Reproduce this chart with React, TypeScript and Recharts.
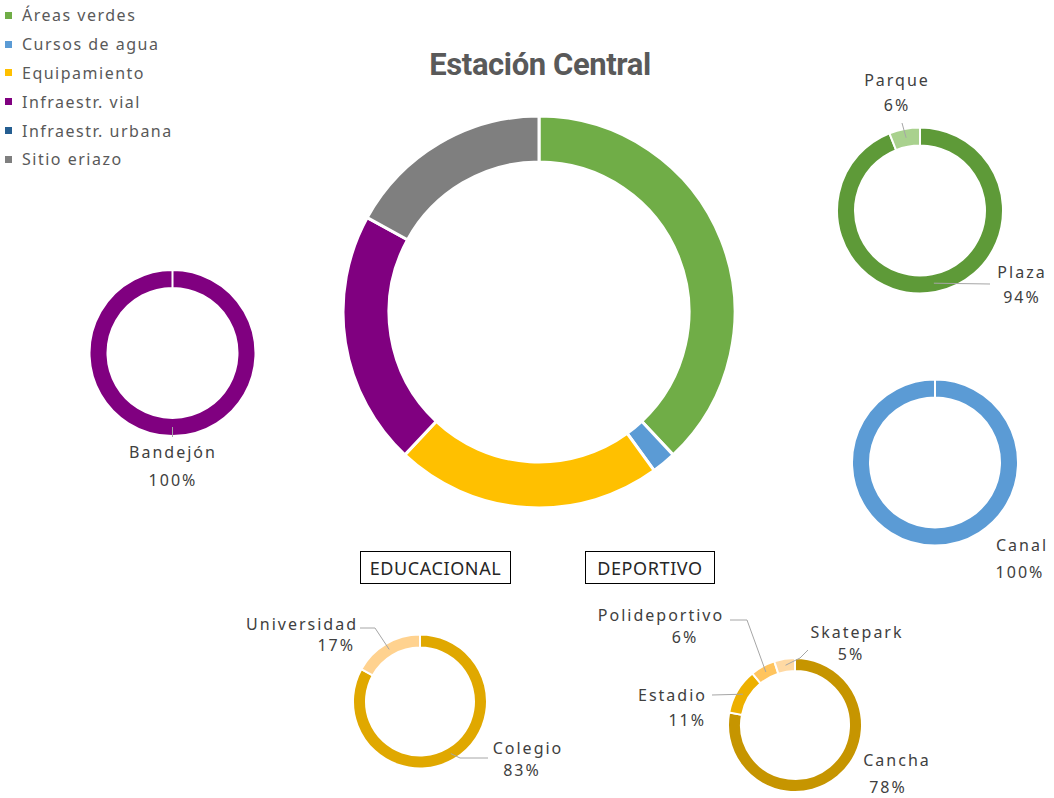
import React from 'react';
import { PieChart, Pie, Cell } from 'recharts';

// ---------- DATA ----------
const mainCategories = ['Áreas verdes', 'Cursos de agua', 'Equipamiento', 'Infraestr. vial', 'Infraestr. urbana', 'Sitio eriazo'];
const mainValues = [38, 2, 22, 21, 0, 17];

const verdesCategories = ['Plaza', 'Parque'];
const verdesValues = [94, 6];

const aguaCategories = ['Canal'];
const aguaValues = [100];

const vialCategories = ['Bandejón'];
const vialValues = [100];

const educCategories = ['Colegio', 'Universidad'];
const educValues = [83, 17];

const deporCategories = ['Cancha', 'Estadio', 'Polideportivo', 'Skatepark'];
const deporValues = [78, 11, 6, 5];

const titleText = 'Estación Central';
const boxLabels = ['EDUCACIONAL', 'DEPORTIVO'];

// ---------- STYLES ----------
const mainColors = ['#70AD47', '#5B9BD5', '#FFC000', '#800080', '#255E91', '#7F7F7F'];
const verdesColors = ['#5E9A38', '#A9D18E'];
const aguaColors = ['#5B9BD5'];
const vialColors = ['#800080'];
const educColors = ['#E0A800', '#FFD28F'];
const deporColors = ['#C69500', '#EDB000', '#FFC45E', '#FFD9A3'];

const FONT = '"Noto Sans", sans-serif';
const RAD = Math.PI / 180;

type Line = [number, number, 'start' | 'middle' | 'end'];
type Spec = { name: Line; pct: Line; path?: [number, number][] };

const toData = (names: string[], values: number[]) => names.map((n, i) => ({ name: n, value: values[i] }));

// label layout offsets (relative to pie center)
const verdesSpecs: Spec[] = [
  { name: [102, 61.5, 'middle'], pct: [102, 86.5, 'middle'], path: [[70, 73.5]] },
  { name: [-23, -130.5, 'middle'], pct: [-23, -105.5, 'middle'], path: [[-18, -87.5]] },
];
const aguaSpecs: Spec[] = [
  { name: [87, 82.5, 'middle'], pct: [85, 109.5, 'middle'] },
];
const vialSpecs: Spec[] = [
  { name: [0.5, 99, 'middle'], pct: [0.5, 127, 'middle'], path: [[0, 84]] },
];
const educSpecs: Spec[] = [
  { name: [108, 46.5, 'middle'], pct: [102, 68.5, 'middle'], path: [[40, 56.5], [68, 56.5]] },
  { name: [-62, -78, 'end'], pct: [-65, -57, 'end'], path: [[-45, -73.5], [-60, -73.5]] },
];
const deporSpecs: Spec[] = [
  { name: [102, 35, 'middle'], pct: [93, 62, 'middle'] },
  { name: [-88, -30, 'end'], pct: [-89, -5, 'end'], path: [[-83, -30]] },
  { name: [-134, -110, 'middle'], pct: [-110, -88, 'middle'], path: [[-48, -105], [-65, -105]] },
  { name: [62, -93, 'middle'], pct: [56, -71, 'middle'], path: [[5, -67], [13, -75]] },
];

const makeLabel = (specs: Spec[]) => (props: any) => {
  const { cx, cy, midAngle, innerRadius, outerRadius, index, percent, name } = props;
  const spec = specs[index];
  if (!spec) return null;
  const r = (innerRadius + outerRadius) / 2;
  const sx = cx + r * Math.cos(-midAngle * RAD);
  const sy = cy + r * Math.sin(-midAngle * RAD);
  const pts = spec.path ? [[sx, sy], ...spec.path.map(([dx, dy]) => [cx + dx, cy + dy])] : null;
  return (
    <g>
      {pts && (
        <polyline points={pts.map((p) => p.join(',')).join(' ')} fill="none" stroke="#A6A6A6" strokeWidth={1} />
      )}
      <text x={cx + spec.name[0]} y={cy + spec.name[1]} textAnchor={spec.name[2]} dominantBaseline="central"
        fontFamily={FONT} fontSize={16} letterSpacing={2} fill="#404040">{name}</text>
      <text x={cx + spec.pct[0]} y={cy + spec.pct[1]} textAnchor={spec.pct[2]} dominantBaseline="central"
        fontFamily={FONT} fontSize={16} letterSpacing={2} fill="#404040">{`${Math.round(percent * 100)}%`}</text>
    </g>
  );
};

const LegendBlock = () => (
  <div style={{ position: 'absolute', left: 0, top: 1, fontFamily: FONT, fontSize: 16, letterSpacing: 1.5, color: '#595959' }}>
    {mainCategories.map((c, i) => (
      <div key={c} style={{ display: 'flex', alignItems: 'center', height: 28.8 }}>
        <span style={{ width: 7, height: 7, background: mainColors[i], display: 'inline-block', marginLeft: 5, marginRight: 10 }} />
        <span>{c}</span>
      </div>
    ))}
  </div>
);

export default function App() {
  const boxStyle: React.CSSProperties = {
    position: 'absolute', top: 551, height: 33, border: '1.5px solid #000', boxSizing: 'border-box',
    display: 'flex', alignItems: 'center', justifyContent: 'center', fontFamily: FONT, fontSize: 18,
    letterSpacing: 0.6, color: '#262626', background: '#fff',
  };
  return (
    <div style={{ position: 'absolute', left: 0, top: 0, width: 1054, height: 798, background: '#fff' }}>
      <PieChart width={1054} height={798} margin={{ top: 0, right: 0, bottom: 0, left: 0 }}>
        <Pie data={toData(mainCategories, mainValues)} dataKey="value" nameKey="name" cx={539} cy={312}
          innerRadius={150} outerRadius={196} startAngle={90} endAngle={-270} stroke="#fff" strokeWidth={3}
          isAnimationActive={false} legendType="none">
          {mainValues.map((_, i) => <Cell key={i} fill={mainColors[i]} />)}
        </Pie>
        <Pie data={toData(verdesCategories, verdesValues)} dataKey="value" nameKey="name" cx={920} cy={210.5}
          innerRadius={65} outerRadius={83} startAngle={90} endAngle={-270} stroke="#fff" strokeWidth={2}
          isAnimationActive={false} label={makeLabel(verdesSpecs)} labelLine={false} legendType="none">
          {verdesValues.map((_, i) => <Cell key={i} fill={verdesColors[i]} />)}
        </Pie>
        <Pie data={toData(aguaCategories, aguaValues)} dataKey="value" nameKey="name" cx={935} cy={462.5}
          innerRadius={65} outerRadius={83} startAngle={90} endAngle={-270} stroke="#fff" strokeWidth={2}
          isAnimationActive={false} label={makeLabel(aguaSpecs)} labelLine={false} legendType="none">
          {aguaValues.map((_, i) => <Cell key={i} fill={aguaColors[i]} />)}
        </Pie>
        <Pie data={toData(vialCategories, vialValues)} dataKey="value" nameKey="name" cx={172.5} cy={353}
          innerRadius={65} outerRadius={83} startAngle={90} endAngle={-270} stroke="#fff" strokeWidth={2}
          isAnimationActive={false} label={makeLabel(vialSpecs)} labelLine={false} legendType="none">
          {vialValues.map((_, i) => <Cell key={i} fill={vialColors[i]} />)}
        </Pie>
        <Pie data={toData(educCategories, educValues)} dataKey="value" nameKey="name" cx={420} cy={701.5}
          innerRadius={54} outerRadius={67} startAngle={90} endAngle={-270} stroke="#fff" strokeWidth={2}
          isAnimationActive={false} label={makeLabel(educSpecs)} labelLine={false} legendType="none">
          {educValues.map((_, i) => <Cell key={i} fill={educColors[i]} />)}
        </Pie>
        <Pie data={toData(deporCategories, deporValues)} dataKey="value" nameKey="name" cx={795} cy={725}
          innerRadius={54} outerRadius={67} startAngle={90} endAngle={-270} stroke="#fff" strokeWidth={2}
          isAnimationActive={false} label={makeLabel(deporSpecs)} labelLine={false} legendType="none">
          {deporValues.map((_, i) => <Cell key={i} fill={deporColors[i]} />)}
        </Pie>
      </PieChart>
      <LegendBlock />
      <div style={{
        position: 'absolute', left: 340, width: 400, top: 46, textAlign: 'center', fontFamily: 'Roboto, sans-serif',
        fontWeight: 700, fontSize: 31, letterSpacing: -0.4, color: '#595959', lineHeight: '38px',
      }}>{titleText}</div>
      <div style={{ ...boxStyle, left: 360, width: 151 }}>{boxLabels[0]}</div>
      <div style={{ ...boxStyle, left: 585, width: 130 }}>{boxLabels[1]}</div>
    </div>
  );
}
